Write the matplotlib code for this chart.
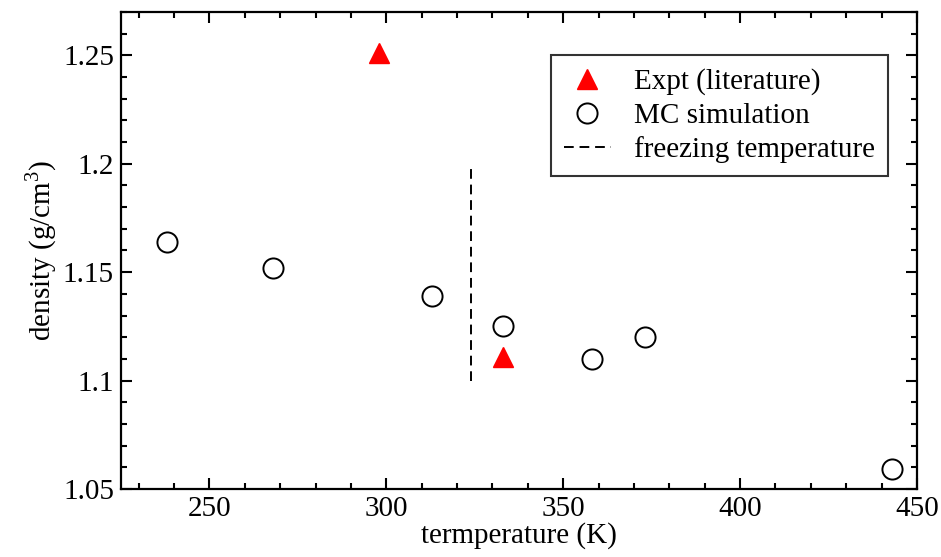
import matplotlib
matplotlib.use("Agg")
import matplotlib.pyplot as plt
from matplotlib.ticker import MultipleLocator

plt.rcParams["font.family"] = ["Liberation Serif", "DejaVu Serif"]
plt.rcParams["mathtext.fontset"] = "custom"
plt.rcParams["mathtext.rm"] = "Liberation Serif"

# data
mc_temp = [238, 268, 313, 333, 358, 373, 443]
mc_density = [1.164, 1.152, 1.139, 1.125, 1.110, 1.120, 1.059]
expt_temp = [298, 333]
expt_density = [1.251, 1.111]
freeze_temp = 324
freeze_range = [1.10, 1.20]

fig = plt.figure(figsize=(9.41, 5.57), dpi=100)
ax = fig.add_axes([121 / 941, 1 - 489 / 557, 796 / 941, 477 / 557])

ax.plot(expt_temp, expt_density, linestyle="none", marker="^", markersize=14,
        color="#ff0000", markeredgecolor="#ff0000", label="Expt (literature)", zorder=3)
ax.plot(mc_temp, mc_density, linestyle="none", marker="o", markersize=14.5,
        markerfacecolor="none", markeredgecolor="black", markeredgewidth=1.4,
        label="MC simulation", zorder=3)
ax.plot([freeze_temp, freeze_temp], freeze_range, color="black", linewidth=1.4,
        linestyle=(0, (5, 3)), label="freezing temperature", zorder=2)

ax.set_xlim(225, 450)
ax.set_ylim(1.05, 1.27)
ax.xaxis.set_major_locator(MultipleLocator(50))
ax.xaxis.set_minor_locator(MultipleLocator(10))
ax.yaxis.set_minor_locator(MultipleLocator(0.01))
ax.set_yticks([1.05, 1.1, 1.15, 1.2, 1.25])
ax.set_yticklabels(["1.05", "1.1", "1.15", "1.2", "1.25"])

ax.tick_params(which="both", direction="in", top=True, right=True, width=1.5)
ax.tick_params(which="major", length=8, labelsize=21, pad=5)
ax.tick_params(which="minor", length=4.5)
for s in ax.spines.values():
    s.set_linewidth(1.6)

ax.set_xlabel("termperature (K)", fontsize=21, labelpad=0)
ax.set_ylabel("density (g/cm$^3$)", fontsize=21, labelpad=3)

leg = ax.legend(loc="upper right", bbox_to_anchor=(0.9636, 0.9099), borderaxespad=0,
                fontsize=21, frameon=True, fancybox=False, handlelength=1.6,
                handletextpad=0.8, labelspacing=0.25, borderpad=0.45)
leg.get_frame().set_edgecolor("black")
leg.get_frame().set_linewidth(1.5)

fig.savefig("out.png", dpi=100, facecolor="white")
